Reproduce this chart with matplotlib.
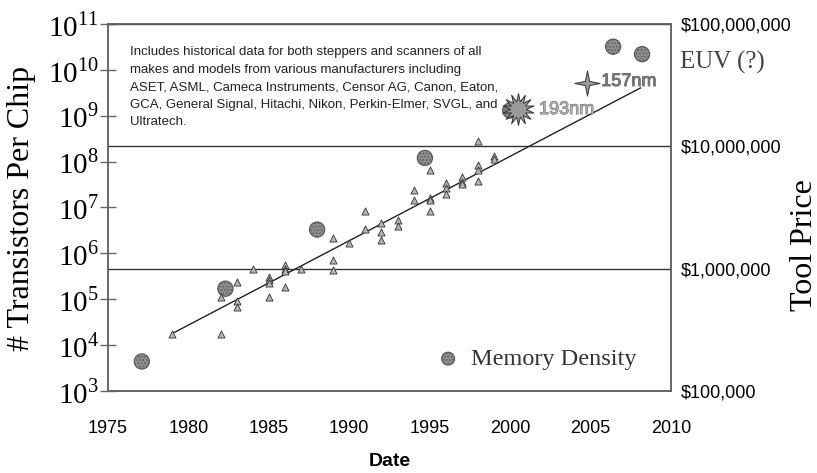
import numpy as np
import matplotlib.pyplot as plt
from matplotlib.path import Path
from matplotlib.ticker import NullLocator
import matplotlib.patheffects as pe

plt.rcParams['mathtext.fontset'] = 'custom'
plt.rcParams['mathtext.rm'] = 'Liberation Serif'
plt.rcParams['hatch.linewidth'] = 0.6

# memory density, transistors per chip (left axis)
mem_year = [1977.1, 1982.3, 1988.0, 1994.7, 2000.0, 2006.4, 2008.2]
mem_count = [4.4e3, 1.7e5, 3.3e6, 1.2e8, 1.3e9, 3.2e10, 2.2e10]

# stepper / scanner tool price in dollars (right axis)
tool_year = [1979, 1982, 1982, 1983, 1983, 1983, 1984,
             1985, 1985, 1985, 1985, 1986, 1986, 1986, 1986, 1987,
             1989, 1989, 1989, 1990, 1991, 1991, 1992, 1992, 1992,
             1993, 1993, 1994, 1994, 1995, 1995, 1995, 1995,
             1996, 1996, 1996, 1997, 1997, 1997,
             1998, 1998, 1998, 1998, 1999, 1999]
tool_price = [295e3, 295e3, 590e3, 780e3, 540e3, 490e3, 1.0e6,
              850e3, 810e3, 760e3, 590e3, 1.07e6, 1.0e6, 955e3, 710e3, 1.0e6,
              1.78e6, 1.17e6, 980e3, 1.62e6, 2.95e6, 2.09e6, 2.34e6, 2.0e6, 1.7e6,
              2.51e6, 2.24e6, 4.37e6, 3.63e6, 6.46e6, 3.8e6, 3.63e6, 2.95e6,
              5.01e6, 4.57e6, 4.07e6, 5.62e6, 5.13e6, 4.9e6,
              11.0e6, 7.08e6, 6.46e6, 5.25e6, 8.32e6, 7.94e6]

# trend line of tool price
trend_year = [1979, 2008.1]
trend_price = [2.95e5, 3.0e7]

# next generation exposure tools
litho_year = [2000.5, 2004.8]
litho_price = [2.0e7, 3.3e7]
litho_label = ['193nm', '157nm']

note = ("Includes historical data for both steppers and scanners of all\n"
        "makes and models from various manufacturers including\n"
        "ASET, ASML, Cameca Instruments, Censor AG, Canon, Eaton,\n"
        "GCA, General Signal, Hitachi, Nikon, Perkin-Elmer, SVGL, and\n"
        "Ultratech.")

serif = 'Liberation Serif'
sans = 'Liberation Sans'

fig = plt.figure(figsize=(8.17, 4.73), dpi=100)
ax = fig.add_axes([0.1322, 0.1734, 0.6891, 0.7759])
ax.set_yscale('log')
ax.set_ylim(1e3, 1e11)
ax.set_xlim(1975, 2010)
ax2 = ax.twinx()
ax2.set_yscale('log')
ax2.set_ylim(1e5, 1e8)

# markers
burst = Path.unit_regular_star(14, 0.5)
t = 0.17
star4 = [(0, 1), (t, t), (1, 0), (t, -t), (0, -1), (-t, -t), (-1, 0), (-t, t), (0, 1)]

mem = ax.scatter(mem_year, mem_count, s=120, marker='o', facecolor='#8c8c8c',
                 edgecolor='#555555', linewidth=0.8, hatch='.....', zorder=3,
                 label='Memory Density')

ax2.plot(trend_year, trend_price, color='#222222', lw=1, zorder=2)
ax2.scatter(tool_year, tool_price, marker='^', s=26, facecolor='#b5b5b5',
            edgecolor='#333333', linewidth=0.6, zorder=3)

markers = [burst, star4]
msizes = [520, 330]
offsets = [(15, 0), (10, 1)]
tcolors = ['#b0b0b0', '#777777']
for yr, pr, lab, mk, ms, off, tc in zip(litho_year, litho_price, litho_label,
                                        markers, msizes, offsets, tcolors):
    ax2.scatter([yr], [pr], marker=mk, s=ms, facecolor='#9a9a9a',
                edgecolor='#333333', linewidth=0.7, zorder=4)
    ax2.annotate(lab, xy=(yr, pr), xytext=off, textcoords='offset points',
                 va='center', ha='left', fontsize=13, family=sans,
                 color=tc,
                 path_effects=[pe.withStroke(linewidth=0.7, foreground='#666666')])

# axes styling
for a in (ax, ax2):
    for s in a.spines.values():
        s.set_color('#666666')
        s.set_linewidth(1.2)

yt = 10.0 ** np.arange(3, 12)
ax.set_yticks(yt, labels=[f'$10^{{{e}}}$' for e in range(3, 12)])
ax.yaxis.set_minor_locator(NullLocator())
ax.tick_params(axis='y', direction='inout', length=11, width=1, color='#666666',
               labelsize=21, pad=1)

xt = list(range(1975, 2011, 5))
ax.set_xticks(xt, labels=[str(x) for x in xt], family=sans, fontsize=13)
ax.tick_params(axis='x', length=0, pad=21)

pt = [1e5, 1e6, 1e7, 1e8]
ax2.set_yticks(pt, labels=['\\$' + f'{int(p):,}' for p in pt], family=sans,
               fontsize=13)
ax2.yaxis.set_minor_locator(NullLocator())
ax2.tick_params(axis='y', length=0, pad=7)
ax2.yaxis.grid(True, color='#333333', lw=1)

ax.set_xlabel('Date', family=sans, fontweight='bold', fontsize=14)
ax.xaxis.set_label_coords(0.5, -0.17)

fig.text(22 / 817, 1 - 208 / 473, '# Transistors Per Chip', family=serif,
         fontsize=23, rotation=90, ha='center', va='center')
fig.text(804 / 817, 1 - 245 / 473, 'Tool Price', family=serif,
         fontsize=23, rotation=90, ha='center', va='center')

ax.text(1.016, 0.895, 'EUV (?)', transform=ax.transAxes, family=serif,
        fontsize=18, color='#444444', va='center', ha='left')

ax.text(0.039, 0.94, note, transform=ax.transAxes, va='top', ha='left',
        family=sans, fontsize=9.5, linespacing=1.62, color='#222222', zorder=5)

ax.legend(handles=[mem], loc='center left', bbox_to_anchor=(0.589, 0.087),
          frameon=False, prop={'family': serif, 'size': 17.5},
          borderpad=0, borderaxespad=0, handlelength=0.7, handletextpad=0.58,
          markerscale=0.85, labelcolor='#333333')

fig.savefig('out.png', dpi=100)
